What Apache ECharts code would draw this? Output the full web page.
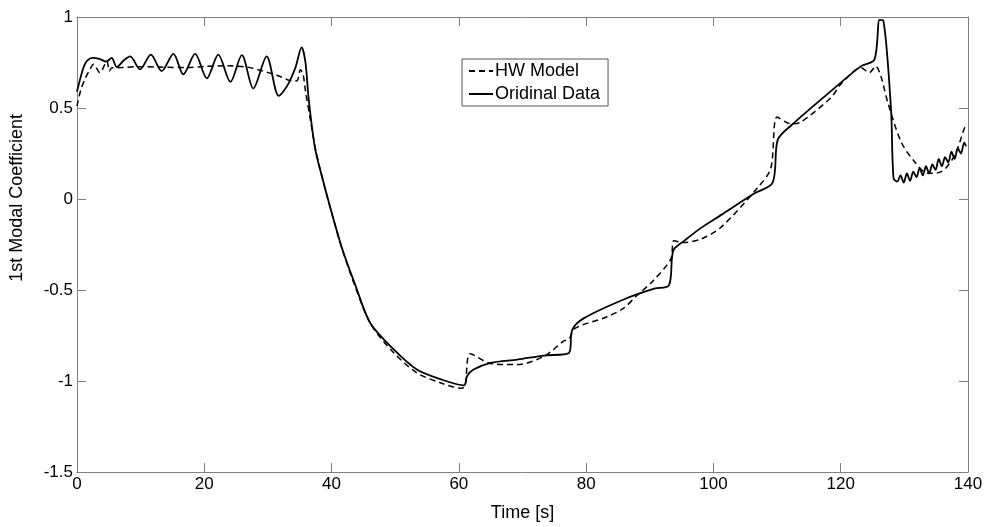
<!DOCTYPE html>
<html>
<head>
<meta charset="utf-8">
<script src="https://cdn.jsdelivr.net/npm/echarts@6/dist/echarts.min.js"></script>
<style>html,body{margin:0;padding:0;background:#fff;}#c{width:995px;height:527px;}</style>
</head>
<body>
<div id="c"></div>
<script>
// Time axis ticks
const xTicks = [0, 20, 40, 60, 80, 100, 120, 140];
const yTicks = [-1.5, -1, -0.5, 0, 0.5, 1];

// HW Model (dashed): time [s], coefficient
const hwTime = [0, 0.6, 1.26, 2.0, 2.6, 3.6, 4.7, 5.1, 5.45, 7, 9.4, 13, 17.2, 20, 23.5, 26.7, 29, 31.4, 34.0, 34.6, 35.1, 35.5, 35.9, 36.6, 37.5, 38.8, 40.2, 41.8, 43.8, 46.2, 49.8, 53.4, 57.1, 60.5, 61.0, 61.8, 65, 69.2, 73.4, 76.5, 77.3, 78.3, 83.3, 85.9, 88, 90.5, 93.3, 93.8, 95.4, 98, 101.1, 106.9, 109, 110, 112.2, 113.7, 118.5, 120, 123.2, 124.5, 125.5, 126.3, 127.4, 129.5, 131.6, 133.7, 135.8, 137.9, 139.4, 139.7];
const hwValue = [0.51, 0.6, 0.66, 0.71, 0.74, 0.694, 0.757, 0.703, 0.72, 0.722, 0.727, 0.725, 0.722, 0.728, 0.732, 0.725, 0.705, 0.68, 0.648, 0.65, 0.71, 0.69, 0.594, 0.45, 0.27, 0.08, -0.1, -0.29, -0.49, -0.69, -0.846, -0.955, -1.01, -1.04, -1.02, -0.85, -0.904, -0.91, -0.864, -0.78, -0.77, -0.71, -0.647, -0.6, -0.529, -0.45, -0.33, -0.23, -0.239, -0.221, -0.158, 0.06, 0.168, 0.45, 0.413, 0.422, 0.558, 0.63, 0.721, 0.694, 0.73, 0.676, 0.53, 0.313, 0.205, 0.141, 0.15, 0.24, 0.386, 0.41];

// Oridinal Data (solid): time [s], coefficient
const dataTime = [0, 0.5, 1.0, 1.6, 2.5, 3.5, 4.6, 5.45, 6.24, 7.3, 8.34, 9.9, 11.6, 13.3, 15.15, 16.7, 18.56, 20.4, 22.2, 24.1, 25.9, 27.7, 29.8, 31.7, 33.0, 34.3, 35.3, 35.9, 36.4, 37.4, 38.7, 40.1, 41.6, 43.7, 46.1, 49.8, 53.4, 57.1, 60.8, 61.3, 62.3, 65, 69.2, 73.4, 77.3, 77.8, 79.6, 85.9, 90.7, 93.0, 93.5, 93.8, 95.4, 98, 101.1, 106.4, 109.3, 110.1, 112.2, 118.5, 123.2, 125.3, 126.1, 126.7, 127.9, 128.3, 128.9, 129.4, 129.9, 130.4, 130.9, 131.4, 131.9, 132.4, 132.9, 133.4, 133.9, 134.4, 134.9, 135.4, 135.9, 136.4, 136.9, 137.4, 137.9, 138.4, 138.9, 139.4, 139.7];
const dataValue = [0.59, 0.66, 0.72, 0.76, 0.775, 0.77, 0.755, 0.775, 0.725, 0.76, 0.784, 0.712, 0.793, 0.703, 0.797, 0.685, 0.797, 0.663, 0.793, 0.643, 0.79, 0.607, 0.784, 0.567, 0.62, 0.72, 0.833, 0.75, 0.55, 0.28, 0.096, -0.085, -0.266, -0.47, -0.683, -0.828, -0.937, -0.99, -1.024, -0.973, -0.937, -0.9, -0.882, -0.86, -0.846, -0.72, -0.656, -0.552, -0.493, -0.475, -0.32, -0.276, -0.23, -0.16, -0.09, 0.03, 0.09, 0.325, 0.404, 0.594, 0.73, 0.766, 0.984, 0.98, 0.495, 0.114, 0.096, 0.13, 0.09, 0.14, 0.10, 0.15, 0.12, 0.17, 0.13, 0.18, 0.14, 0.19, 0.16, 0.22, 0.18, 0.23, 0.20, 0.26, 0.22, 0.28, 0.25, 0.31, 0.29];

const seriesNames = ['HW Model', 'Oridinal Data'];
const xName = 'Time [s]';
const yName = '1st Modal Coefficient';

const pairs = (a, b) => a.map((t, i) => [t, b[i]]);
const axisGray = '#808080';
const font = 'Liberation Sans, Arial, sans-serif';

const chart = echarts.init(document.getElementById('c'), null, {renderer: 'canvas'});
const xBase = {
  type: 'value', min: xTicks[0], max: xTicks[xTicks.length - 1], interval: xTicks[1] - xTicks[0],
  axisLine: {show: true, onZero: false, lineStyle: {color: axisGray, width: 1}},
  axisTick: {show: true, inside: true, length: 9, lineStyle: {color: axisGray}},
  splitLine: {show: false}
};
const yBase = {
  type: 'value', min: yTicks[0], max: yTicks[yTicks.length - 1], interval: 0.5,
  axisLine: {show: true, onZero: false, lineStyle: {color: axisGray, width: 1}},
  axisTick: {show: true, inside: true, length: 9, lineStyle: {color: axisGray}},
  splitLine: {show: false}
};
chart.setOption({
  animation: false,
  backgroundColor: '#ffffff',
  grid: {left: 77, right: 27, top: 17, bottom: 50, containLabel: false},
  legend: {
    orient: 'vertical', left: 462, top: 59,
    backgroundColor: '#fff', borderColor: '#555', borderWidth: 1,
    padding: [3, 8, 3, 6], itemGap: 5, itemWidth: 24, itemHeight: 14,
    itemStyle: {opacity: 0},
    textStyle: {fontFamily: font, fontSize: 18, color: '#000', padding: [0, 0, 0, -3]},
    data: seriesNames
  },
  xAxis: [
    Object.assign({}, xBase, {position: 'bottom', name: xName, nameLocation: 'middle', nameGap: 32,
      nameTextStyle: {fontFamily: font, fontSize: 18, color: '#000'},
      axisLabel: {show: true, margin: 4, fontFamily: font, fontSize: 17, color: '#000'}}),
    Object.assign({}, xBase, {position: 'top', axisLabel: {show: false}})
  ],
  yAxis: [
    Object.assign({}, yBase, {position: 'left',
      axisLabel: {show: true, margin: 4, fontFamily: font, fontSize: 17, color: '#000'}}),
    Object.assign({}, yBase, {position: 'right', axisLabel: {show: false}})
  ],
  graphic: [{
    type: 'text', left: 8, top: 114, rotation: Math.PI / 2,
    style: {text: yName, font: '18px ' + font, fill: '#000'}
  }],
  series: [
    {name: seriesNames[0], type: 'line', xAxisIndex: 0, yAxisIndex: 0, data: pairs(hwTime, hwValue),
      symbol: 'none', smooth: 0.3, lineStyle: {color: '#000', width: 1.5, type: [6, 4]}, itemStyle: {color: '#000'}},
    {name: seriesNames[1], type: 'line', xAxisIndex: 0, yAxisIndex: 0, data: pairs(dataTime, dataValue),
      symbol: 'none', smooth: 0.3, lineStyle: {color: '#000', width: 1.8, type: 'solid'}, itemStyle: {color: '#000'}}
  ]
});
</script>
</body>
</html>
